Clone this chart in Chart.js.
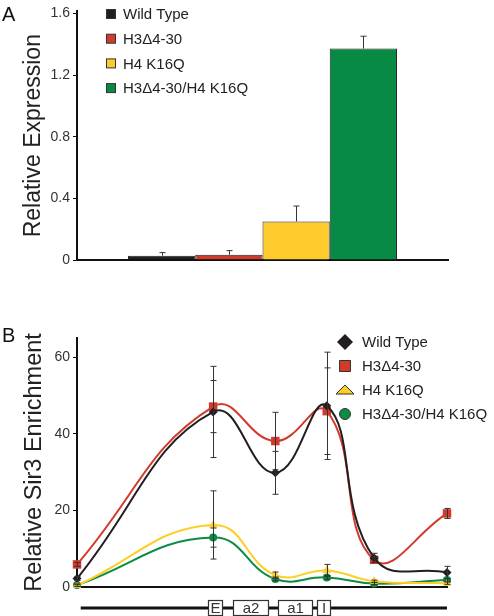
<!DOCTYPE html>
<html>
<head>
<meta charset="utf-8">
<script src="https://cdn.jsdelivr.net/npm/chart.js@4.4.1/dist/chart.umd.min.js"></script>
<style>
  body { margin: 0; background: #fff; }
  canvas { display: block; }
</style>
</head>
<body>
<canvas id="chart-a" width="494" height="290"></canvas>
<canvas id="chart-b" width="494" height="326"></canvas>
<script>
const FONT = "'Liberation Sans', Arial, Helvetica, sans-serif";

// panel A
const strains = ["Wild Type", "H3\u03944-30", "H4 K16Q", "H3\u03944-30/H4 K16Q"];
const strainColors = ["#231f20", "#d23a2b", "#fdcb2b", "#078a44"];
const expression = [0.028, 0.034, 0.25, 1.372];
const expressionErr = [0.02, 0.027, 0.1, 0.08];
const expressionTicks = [0, 0.4, 0.8, 1.2, 1.6];

// panel B
const positions = [0, 36.8, 53.6, 67.5, 80.3, 100];
const wildType = [2.2, 45.7, 29.8, 47.3, 7.6, 3.8];
const wildTypeErr = [0.5, 11.9, 5.6, 14, 1.2, 1.6];
const h3Del = [5.9, 47.1, 38.1, 45.9, 7.1, 19.2];
const h3DelErr = [0.5, 6.8, 7.5, 11.3, 0.7, 1.3];
const h4K16Q = [0.4, 16.2, 3.1, 4.3, 1.5, 1.0];
const h4K16QErr = [0.3, 8.9, 0.8, 1.6, 0.3, 0.3];
const doubleMut = [0.5, 12.9, 2.1, 2.5, 0.9, 1.8];
const doubleMutErr = [0.3, 2.5, 0.5, 0.5, 0.3, 0.3];
const enrichmentTicks = [0, 20, 40, 60];

// HMR-E region under the x axis
const geneLabels = ["E", "a2", "a1", "I"];
const geneStart = [35.3, 42.1, 54.2, 64.9];
const geneEnd = [39.3, 51.5, 63.4, 68.4];

function yAxis(title, min, max, ticks, fontSize) {
  return {
    min: min,
    max: max,
    afterBuildTicks: (scale) => { scale.ticks = ticks.map((v) => ({ value: v })); },
    afterFit: (scale) => { scale.width = 77; },
    border: { display: true, color: "#111", width: 2 },
    grid: { drawOnChartArea: false, drawTicks: true, tickLength: 4, color: "#111", lineWidth: 1 },
    ticks: { padding: 3, color: "#333", font: { family: FONT, size: 14 } },
    title: {
      display: true,
      text: title,
      color: "#222",
      padding: { top: 20, bottom: 0 },
      font: { family: FONT, size: fontSize, weight: "normal" },
    },
  };
}

function panelLetter(letter, y) {
  return {
    id: "letter" + letter,
    afterDraw(chart) {
      const ctx = chart.ctx;
      ctx.save();
      ctx.fillStyle = "#111";
      ctx.font = "20px " + FONT;
      ctx.textBaseline = "alphabetic";
      ctx.fillText(letter, 2, y);
      ctx.restore();
    },
  };
}

const barErrors = {
  id: "barErrors",
  afterDatasetsDraw(chart) {
    const ctx = chart.ctx;
    const y = chart.scales.y;
    ctx.save();
    ctx.strokeStyle = "#333";
    ctx.lineWidth = 1;
    chart.data.datasets.forEach((ds, i) => {
      const bar = chart.getDatasetMeta(i).data[0];
      const x = Math.round(bar.x) + 0.5;
      const top = y.getPixelForValue(expression[i] + expressionErr[i]);
      ctx.beginPath();
      ctx.moveTo(x, bar.y);
      ctx.lineTo(x, top);
      ctx.moveTo(x - 3, top);
      ctx.lineTo(x + 3, top);
      ctx.stroke();
    });
    ctx.restore();
  },
};

const legendA = {
  id: "legendA",
  afterDraw(chart) {
    const ctx = chart.ctx;
    ctx.save();
    ctx.font = "15px " + FONT;
    ctx.textBaseline = "middle";
    strains.forEach((name, i) => {
      const cy = 14 + i * 24.7;
      ctx.fillStyle = strainColors[i];
      ctx.fillRect(106.5, cy - 4.5, 9, 9);
      ctx.strokeStyle = "#333";
      ctx.lineWidth = 1;
      ctx.strokeRect(106.5, cy - 4.5, 9, 9);
      ctx.fillStyle = "#222";
      ctx.fillText(name, 123, cy + 1);
    });
    ctx.restore();
  },
};

new Chart(document.getElementById("chart-a"), {
  type: "bar",
  data: {
    labels: [""],
    datasets: strains.map((name, i) => ({
      label: name,
      data: [expression[i]],
      backgroundColor: strainColors[i],
      borderColor: "#2b2222",
      borderWidth: 1,
    })),
  },
  options: {
    responsive: false,
    animation: false,
    events: [],
    layout: { padding: { top: 10, right: 46, bottom: 30, left: 0 } },
    datasets: { bar: { categoryPercentage: 0.725, barPercentage: 1 } },
    plugins: { legend: { display: false }, tooltip: { enabled: false } },
    scales: {
      x: {
        ticks: { display: false },
        grid: { display: false, drawTicks: false },
        border: { display: true, color: "#111", width: 2 },
        afterFit: (scale) => { scale.height = 0; },
      },
      y: yAxis("Relative Expression", 0, 1.613, expressionTicks, 23),
    },
  },
  plugins: [barErrors, legendA, panelLetter("A", 21)],
});

const lineSeries = [
  { name: strains[0], values: wildType, err: wildTypeErr, color: "#231f20", shape: "rectRot", radius: 4.5 },
  { name: strains[1], values: h3Del, err: h3DelErr, color: "#d23a2b", shape: "rect", radius: 6 },
  { name: strains[2], values: h4K16Q, err: h4K16QErr, color: "#fdcf26", shape: "triangle", radius: 5 },
  { name: strains[3], values: doubleMut, err: doubleMutErr, color: "#0b8c45", shape: "circle", radius: 4 },
];

const lineErrors = {
  id: "lineErrors",
  afterDatasetsDraw(chart) {
    const ctx = chart.ctx;
    const xs = chart.scales.x;
    const ys = chart.scales.y;
    ctx.save();
    ctx.strokeStyle = "#333";
    ctx.lineWidth = 1;
    lineSeries.forEach((s) => {
      s.values.forEach((v, i) => {
        const x = Math.round(xs.getPixelForValue(positions[i])) + 0.5;
        const hi = ys.getPixelForValue(v + s.err[i]);
        const lo = ys.getPixelForValue(Math.max(v - s.err[i], 0));
        ctx.beginPath();
        ctx.moveTo(x, hi);
        ctx.lineTo(x, lo);
        ctx.moveTo(x - 3, hi);
        ctx.lineTo(x + 3, hi);
        ctx.moveTo(x - 3, lo);
        ctx.lineTo(x + 3, lo);
        ctx.stroke();
      });
    });
    ctx.restore();
  },
};

const legendB = {
  id: "legendB",
  afterDraw(chart) {
    const ctx = chart.ctx;
    ctx.save();
    ctx.font = "15px " + FONT;
    ctx.textBaseline = "middle";
    ctx.lineWidth = 1;
    ctx.strokeStyle = "#333";
    lineSeries.forEach((s, i) => {
      const cy = 52 + i * 24;
      const cx = 345;
      ctx.fillStyle = s.color;
      ctx.beginPath();
      if (s.shape === "rectRot") {
        ctx.moveTo(cx, cy - 8);
        ctx.lineTo(cx + 8, cy);
        ctx.lineTo(cx, cy + 8);
        ctx.lineTo(cx - 8, cy);
        ctx.closePath();
        ctx.fill();
      } else if (s.shape === "rect") {
        ctx.rect(cx - 5.5, cy - 5.5, 11, 11);
        ctx.fill();
        ctx.stroke();
      } else if (s.shape === "triangle") {
        ctx.moveTo(cx, cy - 5);
        ctx.lineTo(cx + 9, cy + 4);
        ctx.lineTo(cx - 9, cy + 4);
        ctx.closePath();
        ctx.fill();
        ctx.stroke();
      } else {
        ctx.arc(cx, cy, 5.5, 0, Math.PI * 2);
        ctx.fill();
        ctx.stroke();
      }
      ctx.fillStyle = "#222";
      ctx.fillText(s.name, 362, cy + 1);
    });
    ctx.restore();
  },
};

const geneMap = {
  id: "geneMap",
  afterDraw(chart) {
    const ctx = chart.ctx;
    const xs = chart.scales.x;
    const lineY = 318;
    ctx.save();
    ctx.strokeStyle = "#111";
    ctx.lineWidth = 3;
    ctx.beginPath();
    ctx.moveTo(xs.getPixelForValue(1), lineY);
    ctx.lineTo(xs.getPixelForValue(100), lineY);
    ctx.stroke();
    ctx.font = "15px " + FONT;
    ctx.textAlign = "center";
    ctx.textBaseline = "middle";
    geneLabels.forEach((label, i) => {
      const x0 = Math.round(xs.getPixelForValue(geneStart[i])) + 0.5;
      const x1 = Math.round(xs.getPixelForValue(geneEnd[i])) + 0.5;
      ctx.fillStyle = "#fff";
      ctx.fillRect(x0, 310.5, x1 - x0, 15);
      ctx.strokeStyle = "#333";
      ctx.lineWidth = 1.2;
      ctx.strokeRect(x0, 310.5, x1 - x0, 15);
      ctx.fillStyle = "#333";
      ctx.fillText(label, (x0 + x1) / 2, 318.5);
    });
    ctx.restore();
  },
};

new Chart(document.getElementById("chart-b"), {
  type: "line",
  data: {
    datasets: lineSeries.map((s) => ({
      label: s.name,
      data: s.values.map((v, i) => ({ x: positions[i], y: v })),
      borderColor: s.color,
      backgroundColor: s.color,
      borderWidth: 2,
      tension: 0.45,
      pointStyle: s.shape,
      pointRadius: s.radius,
      pointBorderWidth: 0,
      pointBackgroundColor: s.color,
      clip: false,
    })),
  },
  options: {
    responsive: false,
    animation: false,
    events: [],
    layout: { padding: { top: 48, right: 47, bottom: 29, left: 0 } },
    plugins: { legend: { display: false }, tooltip: { enabled: false } },
    scales: {
      x: {
        type: "linear",
        min: 0,
        max: 100,
        ticks: { display: false },
        grid: { display: false, drawTicks: false },
        border: { display: true, color: "#111", width: 2 },
        afterFit: (scale) => { scale.height = 0; },
      },
      y: yAxis("Relative Sir3 Enrichment", 0, 65, enrichmentTicks, 23.5),
    },
  },
  plugins: [lineErrors, legendB, geneMap, panelLetter("B", 52)],
});
</script>
</body>
</html>
